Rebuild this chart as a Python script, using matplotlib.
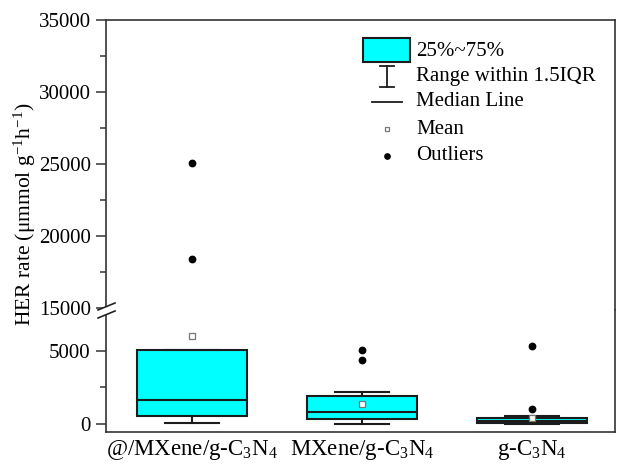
import matplotlib
matplotlib.use("Agg")
import matplotlib.pyplot as plt
from matplotlib.lines import Line2D
from matplotlib.patches import Rectangle, Polygon
from matplotlib.ticker import MultipleLocator

plt.rcParams['font.family'] = ['Liberation Serif', 'DejaVu Serif']
plt.rcParams['mathtext.fontset'] = 'custom'
plt.rcParams['mathtext.rm'] = 'Liberation Serif'
plt.rcParams['mathtext.it'] = 'Liberation Serif:italic'
plt.rcParams['mathtext.bf'] = 'Liberation Serif:bold'

# ---- data ----
categories = ['@/MXene/g-C$_3$N$_4$', 'MXene/g-C$_3$N$_4$', 'g-C$_3$N$_4$']
q1 = [570, 320, 60]
median = [1620, 820, 230]
q3 = [5050, 1940, 380]
whisker_low = [70, 20, 0]
whisker_high = [5050, 2170, 570]
means = [6030, 1370, 430]
outliers = [[18430, 25100], [4380, 5070], [1000, 5320]]
upper_ticks = [15000, 20000, 25000, 30000, 35000]
lower_ticks = [0, 5000]

W, H = 617, 465
fig = plt.figure(figsize=(W / 100, H / 100), dpi=100)

def fx(px):
    return px / W

def fy(py):
    return 1 - py / H

left_px, right_px = 106, 615
top_px, break_px, bottom_px = 20, 310, 432
ax_top = fig.add_axes([fx(left_px), fy(break_px), fx(right_px - left_px), (break_px - top_px) / H])
ax_bot = fig.add_axes([fx(left_px), fy(bottom_px), fx(right_px - left_px), (bottom_px - break_px) / H])

stats = []
for i in range(len(categories)):
    stats.append(dict(med=median[i], q1=q1[i], q3=q3[i], whislo=whisker_low[i],
                      whishi=whisker_high[i], mean=means[i], fliers=outliers[i],
                      label=categories[i]))

edge = '#1c1c1c'
positions = [1, 2, 3]
for ax in (ax_top, ax_bot):
    ax.bxp(stats, positions=positions, widths=0.647, patch_artist=True, showmeans=True,
           capwidths=0.32,
           boxprops=dict(facecolor='#00ffff', edgecolor=edge, linewidth=1.5),
           medianprops=dict(color=edge, linewidth=1.5),
           whiskerprops=dict(color=edge, linewidth=1.5),
           capprops=dict(color=edge, linewidth=1.5),
           meanprops=dict(marker='s', markerfacecolor='white', markeredgecolor='#777777',
                          markersize=4.5, markeredgewidth=0.9),
           flierprops=dict(marker='o', markerfacecolor='black', markeredgecolor='black',
                           markersize=4.6))
    ax.set_xlim(0.494, 3.488)
    for s in ax.spines.values():
        s.set_linewidth(1.2)
        s.set_color('#333333')
    ax.tick_params(axis='y', which='major', direction='out', length=7, width=1.1,
                   labelsize=15, pad=4, color='#333333')
    ax.tick_params(axis='y', which='minor', direction='out', length=4, width=1.1, color='#333333')
    ax.yaxis.set_minor_locator(MultipleLocator(2500))

ax_top.set_ylim(14860, 35000)
ax_top.set_yticks(upper_ticks)
ax_top.spines['bottom'].set_visible(False)
ax_top.tick_params(axis='x', which='both', bottom=False, labelbottom=False)

ax_bot.set_ylim(-550, 7800)
ax_bot.set_yticks(lower_ticks)
ax_bot.spines['top'].set_visible(False)
ax_bot.set_xticks(positions)
ax_bot.set_xticklabels(categories, fontsize=16.5)
ax_bot.tick_params(axis='x', which='both', length=0, pad=4)

# axis break marks on the left spine
gap = Polygon([[fx(98), fy(310)], [fx(115), fy(303)], [fx(115), fy(311)], [fx(98), fy(318)]],
              closed=True, transform=fig.transFigure, facecolor='white', edgecolor='none',
              zorder=10)
fig.add_artist(gap)
for dy in (0, 8):
    fig.add_artist(Line2D([fx(98), fx(115)], [fy(310 + dy), fy(303 + dy)],
                          transform=fig.transFigure, color='#222222', linewidth=1.2, zorder=11))

# y label
fig.text(fx(25), fy(214), 'HER rate (μmmol g$^{-1}$h$^{-1}$)', rotation=90,
         ha='center', va='center', fontsize=15.5)

# legend (drawn manually to mimic Origin style)
fs = 15
tx = fx(416)
fig.add_artist(Rectangle((fx(363), fy(62)), fx(410) - fx(363), fy(38) - fy(62),
                         transform=fig.transFigure, facecolor='#00ffff', edgecolor=edge,
                         linewidth=1.5))
fig.text(tx, fy(51), '25%~75%', va='center', ha='left', fontsize=fs)
fig.add_artist(Line2D([fx(387), fx(387)], [fy(66), fy(87)], transform=fig.transFigure,
                      color=edge, linewidth=1.3))
for yy in (66, 87):
    fig.add_artist(Line2D([fx(380), fx(394)], [fy(yy), fy(yy)], transform=fig.transFigure,
                          color=edge, linewidth=1.3))
fig.text(tx, fy(77), 'Range within 1.5IQR', va='center', ha='left', fontsize=fs)
fig.add_artist(Line2D([fx(372), fx(402)], [fy(102), fy(102)], transform=fig.transFigure,
                      color=edge, linewidth=1.3))
fig.text(tx, fy(102), 'Median Line', va='center', ha='left', fontsize=fs)
fig.add_artist(Line2D([fx(387)], [fy(129)], transform=fig.transFigure, marker='s',
                      markersize=3.5, markerfacecolor='white', markeredgecolor='#777777',
                      markeredgewidth=0.9, linestyle='none'))
fig.text(tx, fy(129), 'Mean', va='center', ha='left', fontsize=fs)
fig.add_artist(Line2D([fx(387)], [fy(156)], transform=fig.transFigure, marker='o',
                      markersize=3.8, markerfacecolor='black', markeredgecolor='black',
                      linestyle='none'))
fig.text(tx, fy(155), 'Outliers', va='center', ha='left', fontsize=fs)

fig.savefig('out.png', dpi=100)
